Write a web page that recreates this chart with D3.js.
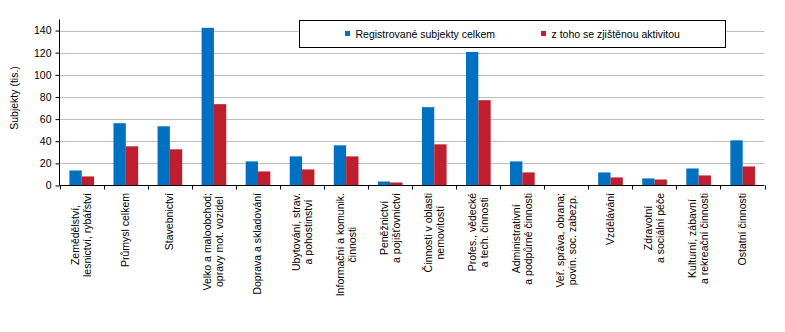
<!DOCTYPE html>
<html>
<head>
<meta charset="utf-8">
<script src="https://cdn.jsdelivr.net/npm/d3@7"></script>
<style>
  body { margin: 0; background: #fff; }
  text { font-family: "Liberation Sans", Arial, sans-serif; fill: #000; }
</style>
</head>
<body>
<svg id="chart" width="785" height="332"></svg>
<script>
// category labels (line breaks as in the original)
const categories = [
  ["Zemědělství,", "lesnictví, rybářství"],
  ["Průmysl celkem"],
  ["Stavebnictví"],
  ["Velko a maloobchod;", "opravy mot. vozidel"],
  ["Doprava a skladování"],
  ["Ubytování, strav.", "a pohostinství"],
  ["Informační a komunik.", "činnosti"],
  ["Peněžnictví", "a pojišťovnictví"],
  ["Činnosti v oblasti", "nemovitostí"],
  ["Profes., vědecké", "a tech. činnosti"],
  ["Administrativní", "a podpůrné činnosti"],
  ["Veř. správa, obrana;", "povin. soc. zabezp."],
  ["Vzdělávání"],
  ["Zdravotní", "a sociální péče"],
  ["Kulturní, zábavní", "a rekreační činnosti"],
  ["Ostatní činnosti"]
];
const seriesNames = ["Registrované subjekty celkem", "z toho se zjištěnou aktivitou"];
const registered = [13.6, 56.3, 53.5, 142.5, 21.8, 26.3, 36.3, 3.6, 70.8, 120.7, 21.8, null, 11.8, 6.4, 15.4, 40.8];
const active     = [8.2, 35.4, 32.7, 73.5, 12.7, 14.5, 26.3, 2.7, 37.2, 77.1, 11.8, null, 7.3, 5.4, 9.1, 17.2];
const yTicks = [0, 20, 40, 60, 80, 100, 120, 140];
const colors = ["#0070C0", "#BE1E2D"];

const svg = d3.select("#chart");
const plotLeft = 59.5, plotRight = 764.5, plotTop = 19.5, plotBottom = 185.5;
const fontSize = "10.5px";

const x = d3.scaleBand().domain(d3.range(categories.length)).range([plotLeft, plotRight]).padding(0);
const bw = x.bandwidth();
const x1 = d3.scaleBand().domain([0, 1]).range([bw * 0.225, bw * 0.785]).padding(0);
const y = d3.scaleLinear().domain([0, 150]).range([plotBottom, plotTop]);

// gridlines
svg.append("g")
  .selectAll("line")
  .data(yTicks.filter(d => d > 0))
  .enter()
  .append("line")
  .attr("x1", plotLeft).attr("x2", plotRight)
  .attr("y1", d => Math.round(y(d)) + 0.5).attr("y2", d => Math.round(y(d)) + 0.5)
  .attr("stroke", "#c0c0c0").attr("stroke-width", 1);

// bars
const rows = categories.map((c, i) => [registered[i], active[i]]);
const groups = svg.append("g")
  .selectAll("g")
  .data(rows)
  .enter()
  .append("g")
  .attr("transform", (d, i) => "translate(" + x(i) + ",0)");

groups.selectAll("rect")
  .data(d => d.map((v, s) => ({ v: v, s: s })).filter(e => e.v != null))
  .enter()
  .append("rect")
  .attr("x", d => x1(d.s))
  .attr("width", x1.bandwidth())
  .attr("y", d => y(d.v))
  .attr("height", d => plotBottom - y(d.v))
  .attr("fill", d => colors[d.s]);

// y axis
const yAxis = svg.append("g")
  .attr("transform", "translate(" + plotLeft + ",0)")
  .call(d3.axisLeft(y).tickValues(yTicks).tickSize(4).tickPadding(4));
yAxis.select(".domain").attr("d", "M0," + plotTop + "V" + plotBottom).attr("stroke", "#000");
yAxis.selectAll("text").style("font-size", fontSize).style("font-family", "Liberation Sans, Arial, sans-serif");

// x axis
const xAxis = svg.append("g")
  .attr("transform", "translate(0," + plotBottom + ")");
xAxis.append("line").attr("x1", plotLeft).attr("x2", plotRight).attr("stroke", "#000");
xAxis.selectAll(".tk")
  .data(d3.range(categories.length + 1))
  .enter()
  .append("line")
  .attr("x1", i => Math.round(plotLeft + i * bw) + 0.5)
  .attr("x2", i => Math.round(plotLeft + i * bw) + 0.5)
  .attr("y1", 0).attr("y2", 4)
  .attr("stroke", "#000");

// category labels, rotated
const labelTop = 193;
categories.forEach(function(lines, i) {
  const g = svg.append("g")
    .attr("transform", "translate(" + (x(i) + bw / 2) + "," + labelTop + ") rotate(-90)");
  const t = g.append("text").style("font-size", fontSize).attr("text-anchor", "middle");
  const spans = lines.map(function(l, k) {
    return t.append("tspan")
      .attr("y", (k - (lines.length - 1) / 2) * 12)
      .attr("dy", "0.35em")
      .text(l);
  });
  let maxLen = 0;
  spans.forEach(s => { maxLen = Math.max(maxLen, s.node().getComputedTextLength()); });
  spans.forEach(s => s.attr("x", -maxLen / 2));
});

// y axis title
svg.append("text")
  .attr("transform", "translate(18,98) rotate(-90)")
  .attr("text-anchor", "middle")
  .style("font-size", fontSize)
  .text("Subjekty (tis.)");

// legend
const legend = svg.append("g");
legend.append("rect")
  .attr("x", 299.5).attr("y", 20.5).attr("width", 426).attr("height", 27)
  .attr("fill", "#fff").attr("stroke", "#000");
const legendX = [345, 541];
seriesNames.forEach(function(name, s) {
  legend.append("rect")
    .attr("x", legendX[s]).attr("y", 31).attr("width", 5).attr("height", 5)
    .attr("fill", colors[s]);
  legend.append("text")
    .attr("x", legendX[s] + 10.5).attr("y", 34)
    .attr("dy", "0.35em")
    .style("font-size", fontSize)
    .text(name);
});
</script>
</body>
</html>
